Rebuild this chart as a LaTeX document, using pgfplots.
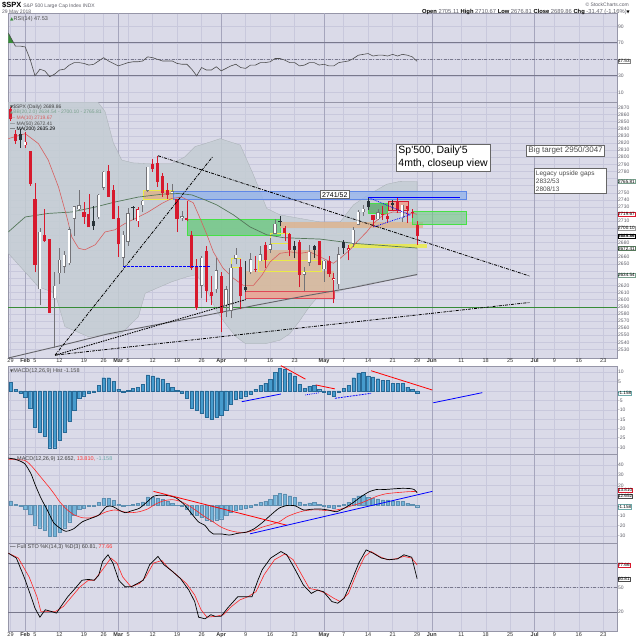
\documentclass[border=0pt]{standalone}
\usepackage{pgfplots}
\pgfplotsset{compat=1.18}
\usepackage{pgfplotstable}
\usepackage{fontspec}
\setmainfont{Liberation Sans}
\newfontfamily\symfont{DejaVu Sans}

\definecolor{panelbg}{RGB}{218,218,232}
\definecolor{gridc}{RGB}{200,200,220}
\definecolor{monthc}{RGB}{165,165,188}
\definecolor{framec}{RGB}{150,150,168}
\definecolor{tickc}{RGB}{95,95,105}
\definecolor{refc}{RGB}{120,120,140}
\definecolor{candred}{RGB}{215,25,45}
\definecolor{candblk}{RGB}{40,50,55}
\definecolor{candgry}{RGB}{115,115,120}
\definecolor{bbfill}{RGB}{196,205,211}
\definecolor{ma10c}{RGB}{215,95,95}
\definecolor{ma50c}{RGB}{85,120,90}
\definecolor{ma200c}{RGB}{100,100,105}
\definecolor{histf}{RGB}{70,155,205}
\definecolor{histd}{RGB}{40,105,150}
\definecolor{gapgreen}{RGB}{110,200,130}
\definecolor{gapgreenb}{RGB}{70,225,70}
\definecolor{gapblue}{RGB}{150,180,235}
\definecolor{gapblueb}{RGB}{95,135,230}
\definecolor{tanc}{RGB}{225,175,130}
\definecolor{salmonc}{RGB}{240,160,140}
\definecolor{yellowc}{RGB}{235,235,70}
\definecolor{supgreen}{RGB}{55,140,55}
\definecolor{bbtext}{RGB}{120,160,140}
\definecolor{tealc}{RGB}{110,170,170}

% daily OHLC, k: 1 red filled, 2 black filled, 3 red hollow, 4 hollow
\pgfplotstableread{
i o h l c k
0 2867.23 2870.62 2851.48 2853.53 1
1 2832.74 2837.75 2818.27 2822.43 1
2 2832.41 2839.26 2813.04 2823.81 2
3 2816.45 2835.96 2812.70 2821.98 3
4 2808.92 2808.92 2759.97 2762.13 1
5 2741.06 2763.39 2638.17 2648.94 1
6 2614.78 2701.04 2593.07 2695.14 4
7 2690.95 2727.67 2681.33 2681.66 1
8 2685.01 2685.27 2580.56 2581.00 1
9 2601.78 2638.67 2532.69 2619.55 4
10 2636.75 2672.61 2622.45 2656.00 4
11 2646.27 2668.84 2637.08 2662.94 4
12 2651.21 2702.10 2648.87 2698.63 4
13 2713.46 2731.51 2689.82 2731.20 4
14 2727.14 2754.42 2725.11 2732.22 4
15 2722.99 2737.60 2706.76 2716.26 1
16 2720.53 2747.75 2701.29 2701.33 1
17 2710.42 2731.26 2697.77 2703.96 2
18 2715.80 2747.76 2713.74 2747.30 4
19 2757.37 2780.64 2753.78 2779.60 4
20 2780.45 2789.15 2744.22 2744.28 1
21 2753.78 2761.52 2713.54 2713.83 1
22 2715.22 2730.89 2659.65 2677.67 1
23 2658.89 2696.25 2647.32 2691.25 4
24 2681.06 2728.09 2675.75 2720.94 4
25 2730.18 2732.08 2711.26 2728.12 2
26 2710.18 2730.60 2701.74 2726.80 3
27 2732.75 2740.45 2722.65 2738.97 4
28 2752.91 2786.57 2751.54 2786.57 4
29 2790.54 2796.98 2779.26 2783.02 1
30 2792.31 2801.90 2758.68 2765.31 1
31 2774.06 2777.11 2744.38 2749.48 1
32 2754.27 2763.03 2741.47 2747.33 1
33 2750.57 2761.85 2749.97 2752.01 4
34 2741.38 2741.38 2694.59 2712.92 1
35 2715.05 2724.22 2710.05 2716.94 4
36 2714.99 2739.14 2709.79 2711.93 1
37 2691.36 2695.68 2641.59 2643.69 1
38 2646.71 2657.67 2585.89 2588.26 1
39 2619.35 2661.36 2601.81 2658.55 4
40 2667.57 2674.78 2596.12 2612.62 1
41 2611.30 2632.65 2593.06 2605.00 1
42 2614.41 2659.07 2609.72 2640.87 4
43 2633.45 2638.30 2553.80 2581.88 1
44 2592.17 2619.14 2575.49 2614.45 4
45 2584.04 2649.86 2573.61 2644.69 4
46 2657.36 2672.08 2649.58 2662.84 4
47 2645.82 2656.88 2586.27 2604.47 1
48 2617.18 2653.55 2610.79 2613.16 2
49 2638.41 2665.45 2635.78 2656.87 4
50 2643.26 2661.43 2639.25 2642.19 1
51 2653.83 2674.72 2653.83 2663.99 4
52 2676.90 2680.26 2645.05 2656.30 1
53 2670.10 2686.49 2665.16 2677.84 4
54 2692.74 2713.34 2692.05 2706.39 4
55 2710.11 2717.49 2703.63 2708.64 2
56 2701.16 2702.84 2681.90 2693.13 1
57 2692.56 2693.94 2660.61 2670.14 1
58 2675.40 2682.86 2657.99 2670.29 2
59 2680.80 2683.55 2617.32 2634.56 1
60 2634.92 2645.30 2612.67 2639.40 4
61 2651.65 2676.48 2647.16 2666.94 4
62 2675.47 2677.35 2659.01 2669.91 2
63 2682.51 2682.87 2648.04 2648.05 1
64 2642.96 2655.27 2625.41 2654.80 4
65 2654.24 2660.87 2631.70 2635.67 1
66 2628.08 2637.14 2594.62 2629.73 3
67 2621.45 2673.61 2615.32 2663.42 4
68 2680.34 2683.35 2664.70 2672.63 2
69 2670.26 2676.34 2655.20 2671.92 3
70 2678.12 2701.27 2674.14 2697.79 4
71 2705.02 2726.11 2704.54 2723.07 4
72 2722.70 2732.86 2717.45 2727.72 4
73 2738.47 2742.10 2725.47 2730.13 2
74 2718.59 2718.59 2701.91 2711.45 1
75 2712.62 2727.76 2712.17 2722.46 4
76 2719.71 2731.96 2711.36 2720.13 3
77 2717.35 2719.50 2709.18 2712.97 1
78 2735.39 2739.19 2725.70 2733.01 2
79 2738.34 2742.24 2721.88 2724.44 1
80 2713.98 2733.33 2709.54 2733.29 4
81 2730.94 2731.97 2707.38 2727.76 1
82 2723.60 2727.36 2714.99 2721.33 1
83 2705.11 2710.67 2676.81 2689.86 1
}\candles

\pgfplotstableread{
i v
-0.45 82
0 77
1 66
2 66
3 65
4 50
5 30
6 38
7 36
8 29
9 32
10 37
11 38
12 43
13 46
14 46
15 45
16 43
17 44
18 48
19 52
20 48
21 45
22 42
23 44
24 46
25 47
26 47
27 48
28 53
29 52
30 50
31 48
32 48
33 48
34 45
35 44
36 44
37 38
38 30
39 40
40 37
41 37
42 41
43 36
44 39
45 42
46 44
47 40
48 39
49 43
50 43
51 46
52 46
53 47
54 51
55 51
56 49
57 46
58 46
59 42
60 43
61 46
62 46
63 43
64 44
65 42
66 42
67 46
68 47
69 48
70 51
71 55
72 56
73 57
74 54
75 55
76 55
77 54
78 56
79 54
80 56
81 55
82 53
83 47.53
}\rsi

\pgfplotstableread{
i v
0 4.5
1 1
2 -1
3 -3.5
4 -9
5 -19
6 -22
7 -24
8 -30
9 -30
10 -26
11 -22
12 -16
13 -10
14 -4
15 -2.5
16 -1
17 -0.5
18 3
19 7
20 7
21 5
22 1
23 -0.5
24 0.5
25 1.5
26 2
27 3.5
28 8.5
29 8
30 7
31 6
32 4
33 2
34 0.3
35 -1
36 -4
37 -9
38 -10
39 -12
40 -14
41 -15
42 -14
43 -13
44 -10
45 -7
46 -4.5
47 -4
48 -2.5
49 -1.5
50 1
51 3
52 4
53 6
54 10
55 12
56 11.5
57 9.5
58 8
59 3.5
60 1.5
61 2.5
62 3
63 1
64 -0.5
65 -1.5
66 -3
67 -0.5
68 1.5
69 3
70 7
71 9.5
72 10
73 8
74 7.5
75 6.5
76 5.5
77 5.5
78 4
79 4
80 4
81 2
82 1
83 -1.158
}\hist

\pgfplotstableread{
i v
-0.45 47
1.2 45.4
2.9 41.4
4.2 31.2
5.0 21
6.2 7.5
7.5 -4.4
8.8 -17
10.0 -22
11.3 -25.5
12.9 -23
14.6 -16.3
16.3 -12.9
18.0 -9.5
19.6 -1.0
20.9 -1.0
22.1 -4.4
23.4 -7.1
24.6 -5.4
26.3 -2.7
28.0 4.1
29.2 9.2
30.5 10.2
32.2 9.8
33.8 7.5
35.5 0.7
37.2 -9.5
38.4 -16.3
39.7 -19.7
40.5 -24.7
41.4 -28.1
43.0 -28.1
44.7 -29.2
46.4 -27.5
48.1 -26.4
49.7 -23.1
51.4 -16.9
53.1 -9.5
54.8 -2.7
56.4 0
58.1 -0.3
59.8 -4.4
61.4 -3.7
63.1 -3.4
64.8 -4.4
66.5 -6.1
68.1 -2.7
69.8 2.4
71.5 8.5
73.2 13.6
74.8 15.9
76.5 15.9
78.2 16.5
79.9 17
81.5 16.8
82.4 15.8
83 12.652
}\macd

\pgfplotstableread{
i v
-0.45 45.4
2.9 44.7
4.5 38
6.2 28
7.9 18
9.0 11
10.0 4
11.3 -3
12.9 -9
14.6 -12
16.3 -12.2
18.0 -9.5
19.6 -6.1
21.3 -4.4
23.0 -6.1
24.6 -7.1
26.3 -6.1
28.0 -3.4
29.6 1.4
31.3 4.7
33.0 5.8
34.7 4.1
36.4 0
38.0 -5.4
39.7 -11.2
41.4 -16.3
43.0 -21.4
44.7 -24.7
46.4 -26.4
48.1 -26.4
49.7 -24.7
51.4 -21.4
53.1 -19.0
54.8 -16.3
56.4 -11.2
58.1 -7.8
59.8 -5.4
61.4 -4.4
63.1 -4.4
64.8 -5.1
66.5 -4.4
68.1 -2.7
69.8 0
71.5 2.4
73.2 5.8
74.8 9.2
76.5 11.5
78.2 12.5
79.9 13.2
81.5 13.8
83 13.81
}\signal

\pgfplotstableread{
i v
-0.45 92
1.2 86
2.9 61
4.2 39
5.0 25
6.0 14
7.1 23
8.3 21
9.4 19
10.4 28
11.7 39
12.9 47
14.6 59
15.9 60
17.1 59
18.0 65
18.8 82
19.9 90
20.9 80
22.1 59
23.4 51
24.6 51
25.9 55
27.1 59
28.4 78
30.1 88
31.3 78
33.0 70
34.7 61
36.4 47
37.6 33
38.4 14
39.7 12
40.9 17
41.8 15
43.0 15
44.3 25
46.4 39
47.6 39
49.3 39
50.5 59
51.4 72
53.1 86
55.2 94
56.4 90
58.1 72
59.8 53
61.4 43
62.7 47
63.9 45
65.6 33
66.8 31
68.1 37
69.4 55
71.1 80
72.6 96
74.0 92
75.7 86
77.3 84
79.0 85
80.3 90
81.9 87
83 60.81
}\stok

\pgfplotstableread{
i v
-0.45 92
1.6 86
3.8 63
5.4 39
6.2 21
7.5 21
9.2 21
10.8 27
12.5 39
14.2 51
15.9 59
17.1 59
18.8 72
20.5 86
21.7 80
22.9 63
24.6 51
26.3 55
27.6 63
29.2 80
30.9 83
32.2 74
33.8 66
35.9 55
37.6 41
38.9 23
40.1 14
41.8 15
43.5 17
45.1 27
46.8 35
48.5 39
50.1 45
51.8 66
53.9 84
56.0 91
57.7 84
59.4 66
61.0 49
62.7 47
64.4 43
66.0 37
67.3 33
69.0 43
70.7 68
72.3 88
73.6 94
75.3 88
76.9 84
78.6 85
80.3 88
81.9 86
83 77.66
}\stod

\pgfplotsset{
  panel/.style={
    scale only axis, width=608.7pt,
    xmin=-0.45, xmax=123.8,
    axis background/.style={fill=panelbg},
    axis line style={draw=framec, line width=0.6pt},
    clip mode=individual,
    xtick={0,5,10,15,19,24,29,34,39,48,53,58,68,73,78,83,92,97,102,111,116,121},
    xticklabels={},
    extra x ticks={3,22,43,64,86,107},
    extra x tick labels={},
    extra x tick style={grid style={draw=monthc, line width=0.5pt}},
    xmajorgrids, yminorgrids,
    grid style={draw=gridc, line width=0.4pt},
    minor grid style={draw=gridc, line width=0.4pt},
    major tick length=0pt, minor tick length=0pt,
    ytick pos=right,
    yticklabel pos=right,
    yticklabel style={font=\fontsize{5}{5}\selectfont, text=tickc, inner sep=1pt},
    /pgf/number format/assume math mode=true,
    /pgf/number format/1000 sep={},
  },
  datelabels/.style={
    xticklabels={29,5,12,19,26,5,12,19,26,9,16,23,7,14,21,29,11,18,25,9,16,23},
    extra x tick labels={\textbf{Feb},\textbf{Mar},\textbf{Apr},\textbf{May},\textbf{Jun},\textbf{Jul}},
    xticklabel style={font=\fontsize{5.5}{5.5}\selectfont, inner sep=0.6pt, text=black!80},
    extra x tick style={xticklabel style={font=\fontsize{5.5}{5.5}\selectfont, inner sep=0.6pt}},
  },
  candle/.style 2 args={draw=none, mark=none, no markers, forget plot,
    error bars/y dir=plus, error bars/y explicit, error bars/error mark=none,
    error bars/error bar style={line width=#2, draw=#1, solid}},
}
\tikzset{
  vbox/.style={anchor=west, inner sep=0.4pt, fill=white, font=\fontsize{4.6}{4.6}\selectfont, line width=0.35pt, xshift=0.5pt},
  lbl/.style={anchor=west, inner sep=0pt, font=\fontsize{5}{5}\selectfont},
  dashdot/.style={line width=0.8pt, dash pattern=on 3pt off 1.2pt on 0.8pt off 1.2pt},
}

\begin{document}
\begin{tikzpicture}
\useasboundingbox (0,0) rectangle (640pt,640pt);
\fill[white] (0,0) rectangle (640pt,640pt);

% ---------------- RSI ----------------
\begin{axis}[panel, at={(8.3pt,626.7pt)}, anchor=north west, height=89.4pt,
  ymin=-2.6, ymax=105.8, ytick={10,30,70,90}, minor ytick={10,30,50,70,90}]
\draw[refc, line width=0.7pt] (-0.45,70) -- (123.8,70);
\draw[refc, line width=0.7pt] (-0.45,30) -- (123.8,30);
\draw[refc, line width=0.5pt, dash pattern=on 3pt off 1.5pt on 0.8pt off 1.5pt] (-0.45,50) -- (123.8,50);
\addplot[fill=supgreen, draw=none] coordinates {(-0.45,70) (-0.45,82) (0,77) (0.64,70)} -- cycle;
\addplot[black!70, line width=0.6pt] table[x=i,y=v]{\rsi};
\coordinate (vrsi) at (123.8,47.53);
\end{axis}

% ---------------- price ----------------
\begin{axis}[panel, datelabels, at={(8.3pt,537.3pt)}, anchor=north west, height=255.3pt,
  ymin=2518, ymax=2876.5,
  ytick={2530,2540,2550,2560,2570,2580,2590,2600,2610,2620,2650,2660,2680,2710,2730,2740,2750,2780,2790,2800,2810,2820,2830,2840,2850,2860,2870},
  minor ytick={2530,2540,...,2870}]
% Bollinger band area
\addplot[fill=bbfill, draw=bbfill!85!black, line width=0.3pt, fill opacity=0.85] coordinates {
(-0.45,2895) (5,2905) (9,2930) (14,2905) (17,2885) (19.3,2864) (21,2820) (22.7,2796)
(25,2792) (28.1,2791) (32.9,2791) (35.5,2800) (37.7,2815) (39.7,2819) (42.8,2826)
(46.9,2817) (49.6,2775) (52.3,2728) (55,2719) (59.1,2714) (63.2,2709) (67.3,2709)
(70,2733) (73,2747) (76.8,2762) (79.5,2766) (83,2765.81)
(83,2634.54) (76.8,2627) (73.4,2623) (70,2618) (66.6,2611) (63,2606) (61,2590)
(59,2570) (57,2552) (55,2543) (52,2538) (48,2538) (46,2548) (44,2565) (42,2585)
(40,2615) (38,2635) (36,2632) (32.9,2625) (27.5,2609) (26.1,2576) (22.7,2553)
(15.9,2548) (11.1,2562) (9.1,2609) (5.7,2618) (-0.45,2665)} -- cycle;

% support line
\draw[supgreen, line width=0.8pt] (-0.45,2589) -- (123.8,2589);

% gap boxes
\filldraw[fill=tanc, fill opacity=0.75, draw=yellowc, line width=0.6pt] (27.1,2741) rectangle (33.2,2754);
\filldraw[fill=gapblue, fill opacity=0.8, draw=gapblueb, line width=0.6pt] (33.2,2741) rectangle (93,2752);
\filldraw[fill=gapgreen, fill opacity=0.8, draw=gapgreenb, line width=0.7pt] (36,2690.6) rectangle (55,2712.7);
\fill[tanc, opacity=0.7] (55,2701) rectangle (84.3,2709);
\filldraw[fill=gapgreen, fill opacity=0.6, draw=gapgreenb, line width=0.7pt] (82,2705.7) rectangle (93,2724.4);
\filldraw[fill=gapgreen!85!black, fill opacity=0.8, draw=gapgreenb, line width=0.5pt] (73,2721) rectangle (76.8,2735);
\filldraw[fill=salmonc, fill opacity=0.85, draw=candred, line width=0.5pt] (77.1,2725.7) rectangle (81.2,2738.4);
\fill[yellowc, opacity=0.85] (69,2672) rectangle (85,2678);
\fill[tanc, opacity=0.6] (48,2611) rectangle (66,2640);
\filldraw[fill=tanc, fill opacity=0.6, draw=yellowc, line width=0.6pt] (50.5,2640) rectangle (63.5,2655);
\fill[tanc, opacity=0.6] (52.3,2655) rectangle (63.5,2670);
\filldraw[fill=salmonc, fill opacity=0.8, draw=candred!80, line width=0.6pt] (48,2602) rectangle (66,2611);
\draw[yellowc, line width=0.8pt] (45,2645) rectangle (47,2658);
\draw[yellowc, line width=0.8pt] (53,2679) rectangle (56.7,2693);

% moving averages
\addplot[ma200c, line width=0.9pt] coordinates {(-0.45,2518) (10,2535) (20,2552) (30,2565) (40,2578) (50,2592) (60,2605) (70,2617) (83,2635.29)};
\addplot[ma50c, line width=0.7pt] coordinates {(-0.45,2695) (3,2716) (7.7,2721) (12.5,2723) (17.3,2730) (21.3,2737) (26.1,2744) (30.9,2748) (34.3,2749) (37,2747) (39.7,2740) (42.1,2733) (45.5,2719) (48.9,2702) (52.3,2691) (55.7,2687) (59.1,2686) (63.2,2685) (70,2679) (76,2676) (83,2672.41)};
\addplot[ma10c, line width=0.6pt] coordinates {(-0.45,2826) (3,2833) (5.7,2819) (7.7,2796) (9.8,2758) (11.5,2716) (12.5,2688) (13.9,2672) (15.2,2670) (17.3,2677) (19.3,2695) (21.3,2698) (23.4,2707) (26.1,2716) (28.1,2723) (30.9,2735) (32.9,2742) (34.9,2744) (37.3,2736) (38.7,2714) (40.1,2691) (41.4,2667) (43.4,2644) (45.5,2630) (47.5,2620) (49.6,2620) (51.3,2634) (53,2653) (55,2665) (57.1,2667) (59.1,2665) (61.1,2667) (63.2,2660) (65.9,2651) (67.3,2658) (69.3,2670) (70.7,2681) (72.7,2695) (74.1,2707) (76.1,2719) (78.1,2723) (80.2,2722) (82.2,2721) (83,2719.67)};

% candles: wicks
\addplot[restrict expr to domain={\thisrow{k}}{0.5:1.5}, candle={candred}{0.7pt}] table[x=i, y=l, y error plus expr=\thisrow{h}-\thisrow{l}]{\candles};
\addplot[restrict expr to domain={\thisrow{k}}{1.5:2.5}, candle={candblk}{0.7pt}] table[x=i, y=l, y error plus expr=\thisrow{h}-\thisrow{l}]{\candles};
\addplot[restrict expr to domain={\thisrow{k}}{2.5:3.5}, candle={candred}{0.7pt}] table[x=i, y=l, y error plus expr=\thisrow{h}-\thisrow{l}]{\candles};
\addplot[restrict expr to domain={\thisrow{k}}{3.5:4.5}, candle={candgry}{0.7pt}] table[x=i, y=l, y error plus expr=\thisrow{h}-\thisrow{l}]{\candles};
% candles: bodies
\addplot[restrict expr to domain={\thisrow{k}}{0.5:1.5}, candle={candred}{3.2pt}] table[x=i, y=c, y error plus expr=\thisrow{o}-\thisrow{c}]{\candles};
\addplot[restrict expr to domain={\thisrow{k}}{1.5:2.5}, candle={candblk}{3.2pt}] table[x=i, y=c, y error plus expr=\thisrow{o}-\thisrow{c}]{\candles};
\addplot[restrict expr to domain={\thisrow{k}}{2.5:3.5}, candle={candred}{3.2pt}] table[x=i, y=o, y error plus expr=\thisrow{c}-\thisrow{o}]{\candles};
\addplot[restrict expr to domain={\thisrow{k}}{2.5:3.5}, candle={white}{1.9pt}] table[x=i, y expr=\thisrow{o}+0.7, y error plus expr={max(\thisrow{c}-\thisrow{o}-1.4,0)}]{\candles};
\addplot[restrict expr to domain={\thisrow{k}}{3.5:4.5}, candle={candgry}{3.2pt}] table[x=i, y=o, y error plus expr=\thisrow{c}-\thisrow{o}]{\candles};
\addplot[restrict expr to domain={\thisrow{k}}{3.5:4.5}, candle={white}{1.9pt}] table[x=i, y expr=\thisrow{o}+0.7, y error plus expr={max(\thisrow{c}-\thisrow{o}-1.4,0)}]{\candles};

% trend lines
\draw[black, dashdot] (9.1,2522) -- (41.3,2801);
\draw[black, line width=0.9pt, dash pattern=on 1.5pt off 1pt] (9.1,2522) -- (48,2600);
\draw[black, dashdot] (9.1,2522) -- (106,2596);
\draw[black, dashdot] (30.1,2802) -- (106,2633);
\draw[blue, line width=0.8pt, dash pattern=on 2.5pt off 1.5pt] (23,2647) -- (40.7,2647);
\draw[blue, line width=0.9pt] (73,2743.6) -- (91.8,2743.6);
\draw[blue, line width=0.8pt, densely dotted] (73,2743.6) -- (81.5,2719) -- (74.1,2702);

% notes
\node[draw=black!60, fill=white, line width=0.5pt, align=left, inner sep=2.5pt, font=\fontsize{10.5}{12.5}\selectfont] at (88.3,2799.5) {Sp\textquotesingle 500, Daily\textquotesingle 5\\4mth, closeup view};
\node[draw=black!60, fill=white, line width=0.5pt, inner sep=2pt, font=\fontsize{8}{9}\selectfont, text=black!70] at (113.3,2809.3) {Big target 2950/3047};
\node[draw=black!60, fill=white, line width=0.5pt, inner sep=2pt, align=left, text width=68pt, font=\fontsize{6.5}{8}\selectfont, text=black!70] at (114.2,2766.5) {Legacy upside gaps\\2832/53\\2808/13};
\node[draw=black!60, fill=white, line width=0.5pt, inner sep=1.5pt, font=\fontsize{7}{7}\selectfont] at (66.2,2747.5) {2741/52};

\coordinate (vbu) at (123.8,2765.81);
\coordinate (vma10) at (123.8,2719.67);
\coordinate (vbm) at (123.8,2700.10);
\coordinate (vpx) at (123.8,2689.86);
\coordinate (vma50) at (123.8,2672.41);
\coordinate (vbl) at (123.8,2634.54);
\end{axis}

% ---------------- MACD histogram ----------------
\begin{axis}[panel, at={(8.3pt,274pt)}, anchor=north west, height=88.3pt,
  ymin=-33.5, ymax=13.2, ytick={-30,-25,-20,-15,-10,-5,5,10}, minor ytick={-30,-25,...,10}]
\addplot[ybar, bar width=3.2pt, fill=histf, draw=histd, line width=0.3pt] table[x=i,y=v]{\hist};
\draw[red, line width=0.8pt] (55.2,13.4) -- (60.2,6.25);
\draw[red, line width=0.8pt] (62.3,3.2) -- (66.2,1.1);
\draw[red, line width=0.8pt] (73.6,10.7) -- (86.1,0.5);
\draw[blue, line width=0.8pt] (47.2,-5.7) -- (55.2,-1.6);
\draw[blue, line width=0.8pt, densely dotted] (60.2,-2.1) -- (63.1,-0.9);
\draw[blue, line width=0.8pt, dash pattern=on 2pt off 1pt] (66.2,-3.9) -- (73.6,-1.25);
\draw[blue, line width=0.8pt] (86.3,-6.25) -- (96.3,-0.9);
\coordinate (vh) at (123.8,-1.158);
\end{axis}

% ---------------- MACD ----------------
\begin{axis}[panel, at={(8.3pt,185.7pt)}, anchor=north west, height=89pt,
  ymin=-37.4, ymax=50.7, ytick={-30,-20,-10,20,30,40}, minor ytick={-30,-20,...,40}]
\addplot[ybar, bar width=3.2pt, fill=histf!75!white, draw=histd!75!white, line width=0.3pt] table[x=i,y=v]{\hist};
\addplot[red!85!white, line width=0.6pt, smooth, tension=0.4] table[x=i,y=v]{\signal};
\addplot[black, line width=0.7pt, smooth, tension=0.4] table[x=i,y=v]{\macd};
\draw[red, line width=0.8pt] (29.2,14) -- (56.4,-19.5);
\draw[blue, line width=0.8pt] (48.9,-28) -- (86.1,14);
\coordinate (vsig) at (123.8,13.81);
\coordinate (vmacd) at (123.8,12.652);
\coordinate (vmh) at (123.8,-1.158);
\end{axis}

% ---------------- Full STO ----------------
\begin{axis}[panel, datelabels, at={(8.3pt,96.7pt)}, anchor=north west, height=88.4pt,
  ymin=-3.7, ymax=104, ytick={20,50}, minor ytick={20,50,80}]
\draw[refc, line width=0.7pt] (-0.45,80) -- (123.8,80);
\draw[refc, line width=0.7pt] (-0.45,20) -- (123.8,20);
\draw[refc, line width=0.5pt, dash pattern=on 3pt off 1.5pt on 0.8pt off 1.5pt] (-0.45,50) -- (123.8,50);
\addplot[red!85!white, line width=0.6pt] table[x=i,y=v]{\stod};
\addplot[black, line width=0.7pt] table[x=i,y=v]{\stok};
\coordinate (vd) at (123.8,77.66);
\coordinate (vk) at (123.8,60.81);
\end{axis}

% ---------------- value boxes ----------------
\node[vbox, draw=black!50] at (vrsi) {47.53};
\node[vbox, draw=bbtext] at (vbu) {2765.81};
\node[vbox, draw=candred] at (vma10) {2719.67};
\node[vbox, draw=black!40, yshift=0.6pt] at (vbm) {2700.10};
\node[vbox, draw=black, font=\fontsize{4.6}{4.6}\selectfont\bfseries, yshift=-0.8pt] at (vpx) {2689.86};
\node[vbox, draw=ma50c, yshift=-0.6pt] at (vma50) {2672.41};
\node[vbox, draw=bbtext] at (vbl) {2634.54};
\node[vbox, draw=tealc] at (vh) {-1.158};
\node[vbox, draw=candred, yshift=1.5pt] at (vsig) {13.810};
\node[vbox, draw=black!70, yshift=-3pt] at (vmacd) {12.652};
\node[vbox, draw=tealc] at (vmh) {-1.158};
\node[vbox, draw=candred] at (vd) {77.66};
\node[vbox, draw=black!70] at (vk) {60.81};

% ---------------- headers and labels ----------------
\node[anchor=west, inner sep=0pt] at (2pt,635pt) {{\fontsize{7.5}{8}\selectfont\bfseries\$SPX}\hspace{2pt}{\fontsize{5}{6}\selectfont\color{tickc}S\&P 500 Large Cap Index INDX}};
\node[anchor=west, inner sep=0pt, font=\fontsize{5}{6}\selectfont, text=tickc] at (2pt,627.8pt) {29 May 2018};
\node[anchor=east, inner sep=0pt, font=\fontsize{5}{6}\selectfont, text=tickc] at (629pt,635pt) {© StockCharts.com};
\node[anchor=east, inner sep=0pt, font=\fontsize{5.8}{6}\selectfont] at (630pt,627.8pt) {\textbf{Open} {\color{tickc}2705.11} \textbf{High} {\color{tickc}2710.67} \textbf{Low} {\color{tickc}2676.81} \textbf{Close} {\color{tickc}2689.86} \textbf{Chg} {\color{tickc}-31.47 (-1.16\%)}{\symfont\fontsize{4}{4}\selectfont ▼}};

\node[lbl, font=\fontsize{5.5}{6}\selectfont, text=black!70] at (10pt,620.5pt) {{\symfont\color{supgreen}\fontsize{4.5}{5}\selectfont ▲}RSI(14) 47.53};

\node[lbl, text=black!75] at (10pt,533.3pt) {{\symfont\fontsize{4}{4}\selectfont ▼}\$SPX (Daily) 2689.86};
\node[lbl, text=bbtext] at (10pt,527.6pt) {{\symfont\fontsize{4}{4}\selectfont ▲}BB(20,2.0) 2634.54 - 2700.10 - 2765.81};
\node[lbl, text=ma10c] at (10pt,521.9pt) {— MA(10) 2719.67};
\node[lbl, text=black!70] at (10pt,516.2pt) {— MA(50) 2672.41};
\node[lbl, text=black] at (10pt,510.5pt) {— MA(200) 2635.29};

\node[lbl, font=\fontsize{5.5}{6}\selectfont, text=black!70] at (10pt,269pt) {{\symfont\fontsize{4}{4}\selectfont ▼}MACD(12,26,9) Hist -1.158};
\node[lbl, font=\fontsize{5.5}{6}\selectfont] at (10pt,180.5pt) {— {\color{black!75}MACD(12,26,9) 12.652,} {\color{red!80}13.810,} {\color{tealc}-1.158}};
\node[lbl, font=\fontsize{5.5}{6}\selectfont] at (10pt,92.5pt) {— {\color{black!75}Full STO \%K(14,3) \%D(3) 60.81,} {\color{red!80}77.66}};
\end{tikzpicture}
\end{document}
